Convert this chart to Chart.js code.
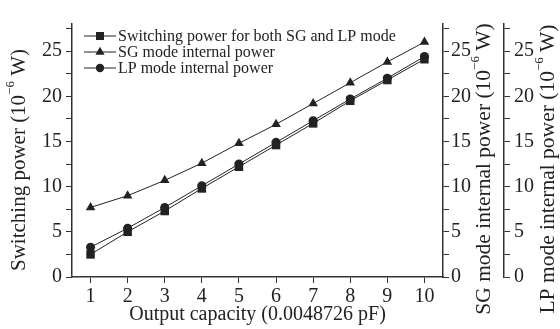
<!DOCTYPE html>
<html>
<head>
<meta charset="utf-8">
<script src="https://cdn.jsdelivr.net/npm/chart.js@4.4.1/dist/chart.umd.min.js"></script>
<style>
  html, body { margin: 0; padding: 0; background: #fff; }
  canvas { display: block; }
</style>
</head>
<body>
<canvas id="chart" width="560" height="329"></canvas>
<script>
// Output power vs. output capacity (three series, one shared 0..28 scale)
const capacity       = [1, 2, 3, 4, 5, 6, 7, 8, 9, 10];
const switchingPower = [2.5, 5.0, 7.3, 9.8, 12.2, 14.6, 17.0, 19.5, 21.8, 24.1];
const sgInternal     = [7.7, 9.0, 10.7, 12.6, 14.8, 16.9, 19.2, 21.5, 23.8, 26.0];
const lpInternal     = [3.3, 5.4, 7.7, 10.1, 12.5, 14.9, 17.3, 19.7, 22.0, 24.4];

const xTicks = [1, 2, 3, 4, 5, 6, 7, 8, 9, 10];
const yTicks = [0, 2.5, 5, 7.5, 10, 12.5, 15, 17.5, 20, 22.5, 25, 27.5];

const seriesNames = [
  'Switching power for both SG and LP mode',
  'SG mode internal power',
  'LP mode internal power',
];
const markerStyles = ['rect', 'triangle', 'circle'];

const INK = '#222';
const SERIF = '"Liberation Serif", "Times New Roman", serif';

const onlyMajor = v => (v % 5 === 0 ? String(v) : '');
const setTicks = list => axis => { axis.ticks = list.map(v => ({ value: v })); };

function yAxis(position, width, pad) {
  return {
    type: 'linear', position, display: true, min: 0, max: 28,
    afterBuildTicks: setTicks(yTicks),
    afterFit: s => { s.width = width; },
    border: { display: true, color: '#333', width: 1.5 },
    grid: { drawOnChartArea: false, drawTicks: true, tickLength: 6, color: '#333', tickWidth: 1 },
    ticks: { color: INK, padding: pad, font: { family: SERIF, size: 20 }, callback: onlyMajor, autoSkip: false },
  };
}

// rotated titles with a real superscript, read bottom-to-top
function drawVTitle(ctx, text, cx, cy, size) {
  const sup = Math.round(size * 0.62);
  const parts = [
    { t: text + ' (10', f: size, dy: 0 },
    { t: '\u22126', f: sup, dy: -size * 0.4 },
    { t: ' W)', f: size, dy: 0 },
  ];
  ctx.save();
  ctx.translate(cx, cy);
  ctx.rotate(-Math.PI / 2);
  ctx.fillStyle = INK;
  ctx.textBaseline = 'middle';
  let total = 0;
  parts.forEach(p => { ctx.font = `${p.f}px ${SERIF}`; p.w = ctx.measureText(p.t).width; total += p.w; });
  let x = -total / 2;
  parts.forEach(p => { ctx.font = `${p.f}px ${SERIF}`; ctx.fillText(p.t, x, p.dy); x += p.w; });
  ctx.restore();
}

const titlesPlugin = {
  id: 'vtitles',
  afterDraw(chart) {
    const ctx = chart.ctx;
    drawVTitle(ctx, 'Switching power', 19, 160, 21);
    drawVTitle(ctx, 'SG mode internal power', 484, 169, 21.5);
    drawVTitle(ctx, 'LP mode internal power', 548, 169, 21.5);
  },
};

function drawMarker(ctx, style, x, y) {
  ctx.beginPath();
  if (style === 'rect') {
    ctx.rect(x - 4, y - 4, 8, 8);
  } else if (style === 'triangle') {
    ctx.moveTo(x, y - 5.2);
    ctx.lineTo(x + 4.6, y + 2.8);
    ctx.lineTo(x - 4.6, y + 2.8);
    ctx.closePath();
  } else {
    ctx.arc(x, y, 4.2, 0, Math.PI * 2);
  }
  ctx.fill();
}

const legendPlugin = {
  id: 'innerLegend',
  afterDatasetsDraw(chart) {
    const ctx = chart.ctx;
    const x0 = 84, x1 = 116, rowY = [36, 52, 68];
    ctx.save();
    ctx.strokeStyle = INK; ctx.fillStyle = INK; ctx.lineWidth = 1;
    ctx.font = `16px ${SERIF}`;
    ctx.textBaseline = 'middle';
    seriesNames.forEach((name, i) => {
      const y = rowY[i];
      ctx.beginPath(); ctx.moveTo(x0, y); ctx.lineTo(x1, y); ctx.stroke();
      drawMarker(ctx, markerStyles[i], (x0 + x1) / 2, y);
      ctx.fillText(name, x1 + 2, y + 1);
    });
    ctx.restore();
  },
};

const line = (label, data, style, r) => ({
  label, data, pointStyle: style, pointRadius: r, pointHoverRadius: r,
  borderColor: INK, backgroundColor: INK, pointBackgroundColor: INK, pointBorderColor: INK,
  borderWidth: 1, pointBorderWidth: 0, tension: 0,
});

new Chart(document.getElementById('chart'), {
  type: 'line',
  data: {
    labels: capacity,
    datasets: [
      line(seriesNames[0], capacity.map((x, i) => ({ x, y: switchingPower[i] })), 'rect', 6),
      line(seriesNames[1], capacity.map((x, i) => ({ x, y: sgInternal[i] })), 'triangle', 5.5),
      line(seriesNames[2], capacity.map((x, i) => ({ x, y: lpInternal[i] })), 'circle', 4.5),
    ],
  },
  options: {
    responsive: false, animation: false,
    layout: { padding: { top: 24, right: 0, bottom: 0, left: 0 } },
    plugins: { legend: { display: false }, tooltip: { enabled: false } },
    scales: {
      x: {
        type: 'linear', min: 0.5, max: 10.5,
        afterBuildTicks: setTicks(xTicks),
        afterFit: s => { s.height = 52; },
        border: { display: true, color: '#333', width: 1.5 },
        grid: { drawOnChartArea: false, drawTicks: true, tickLength: 6, color: '#333' },
        ticks: { color: INK, padding: 2, font: { family: SERIF, size: 20 }, autoSkip: false, maxRotation: 0 },
        title: { display: true, text: 'Output capacity (0.0048726 pF)', color: INK,
                 font: { family: SERIF, size: 20 }, padding: { top: 0, bottom: 2 } },
      },
      y: yAxis('left', 72, 4),
      y2: yAxis('right', 61, 2),
      y3: yAxis('right', 56, 4),
    },
  },
  plugins: [titlesPlugin, legendPlugin],
});
</script>
</body>
</html>
